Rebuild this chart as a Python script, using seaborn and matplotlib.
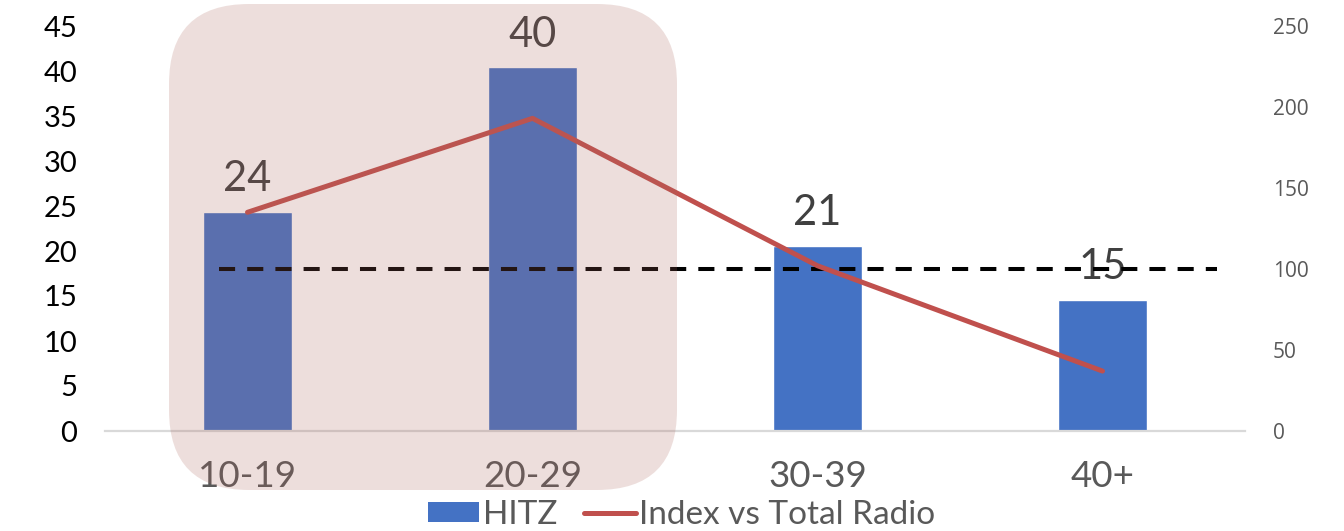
import matplotlib
matplotlib.use("Agg")
import matplotlib.pyplot as plt
import matplotlib.transforms as mtransforms
from matplotlib.patches import FancyBboxPatch, Patch
from matplotlib.lines import Line2D
import numpy as np
import seaborn as sns

# Age groups and their values
categories = ["10-19", "20-29", "30-39", "40+"]
hitz_share = [24.3, 40.4, 20.6, 14.6]
index_vs_total = [135, 193, 102, 37]
index_baseline = 100

left_ticks = [0, 5, 10, 15, 20, 25, 30, 35, 40, 45]
right_ticks = [0, 50, 100, 150, 200, 250]

BAR_BLUE = "#4472C4"
LINE_RED = "#C0504D"
GREY_TEXT = "#595959"

sns.set_theme(style="white")
plt.rcParams["font.family"] = ["Lato", "DejaVu Sans"]

fig = plt.figure(figsize=(13.44, 5.31), dpi=100)
ax = fig.add_axes([105 / 1344, 100 / 531, 1140 / 1344, 405 / 531])
ax2 = ax.twinx()

sns.barplot(x=categories, y=hitz_share, color=BAR_BLUE, saturation=1,
            width=0.31, ax=ax, zorder=2)
ax.set_xlim(-0.5, 3.5)
ax.set_ylim(0, 45)
ax.set_yticks(left_ticks)
ax.set_yticklabels([str(t) for t in left_ticks], fontsize=21, color="black")
ax.tick_params(axis="y", length=0, pad=20)
ax.tick_params(axis="x", length=0, pad=21, labelsize=26.5, labelcolor=GREY_TEXT)
ax.set_xlabel("")
ax.set_ylabel("")
for side in ["top", "left", "right"]:
    ax.spines[side].set_visible(False)
ax.spines["bottom"].set_color("#D9D9D9")
ax.spines["bottom"].set_linewidth(1.6)

# value labels above bars
for i, v in enumerate(hitz_share):
    ax.annotate(f"{v:.0f}", xy=(i, v), xytext=(0, 10), textcoords="offset points",
                ha="center", va="bottom", fontsize=30, color="#404040")

# index line on the secondary axis
sns.lineplot(x=np.arange(len(categories)), y=index_vs_total, ax=ax2,
             color=LINE_RED, linewidth=3.6, solid_capstyle="round", zorder=3)
ax2.plot([-0.1, 3.4], [index_baseline, index_baseline], color="black",
         linewidth=2.9, linestyle=(0, (4.0, 3.0)), zorder=2)
ax2.set_ylim(0, 250)
ax2.set_yticks(right_ticks)
ax2.set_yticklabels([str(t) for t in right_ticks], fontsize=15, color=GREY_TEXT,
                    family=["Open Sans", "DejaVu Sans"])
ax2.tick_params(axis="y", length=0, pad=20)
ax2.set_ylabel("")
for side in ["top", "left", "right", "bottom"]:
    ax2.spines[side].set_visible(False)
ax2.grid(False)
ax.grid(False)

# legend below the chart
handles = [Patch(facecolor=BAR_BLUE, edgecolor="none"),
           Line2D([0], [0], color=LINE_RED, linewidth=3.6, solid_capstyle="round")]
fig.legend(handles, ["HITZ", "Index vs Total Radio"], loc="center",
           bbox_to_anchor=(0.507, 1 - 515 / 531), ncol=2, frameon=False,
           fontsize=24, labelcolor=GREY_TEXT, handlelength=1.55,
           handleheight=0.55, handletextpad=0.1, columnspacing=0.8,
           borderaxespad=0, borderpad=0)

# translucent rounded highlight over the two younger groups
highlight = FancyBboxPatch((169, 531 - 490), 677 - 169, 490 - 4,
                           boxstyle="round,pad=0,rounding_size=80",
                           transform=mtransforms.IdentityTransform(),
                           facecolor="#AD665D", alpha=0.21, edgecolor="none",
                           zorder=10, clip_on=False)
fig.patches.append(highlight)

fig.savefig("out.png", dpi=100)
